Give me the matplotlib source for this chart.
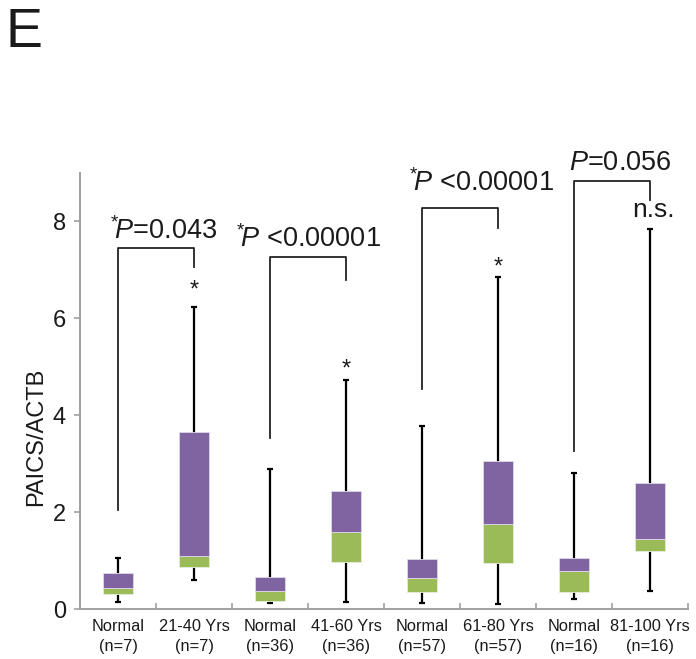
import matplotlib
matplotlib.use("Agg")
import matplotlib.pyplot as plt
import numpy as np

plt.rcParams['font.family'] = ['Liberation Sans', 'DejaVu Sans']
plt.rcParams['mathtext.fontset'] = 'custom'
plt.rcParams['mathtext.rm'] = 'Liberation Sans'
plt.rcParams['mathtext.it'] = 'Liberation Sans:italic'

# ---- data ----
groups = ["Normal", "21-40 Yrs", "Normal", "41-60 Yrs", "Normal", "61-80 Yrs", "Normal", "81-100 Yrs"]
counts = ["(n=7)", "(n=7)", "(n=36)", "(n=36)", "(n=57)", "(n=57)", "(n=16)", "(n=16)"]
whisker_low = [0.15, 0.60, 0.12, 0.15, 0.13, 0.10, 0.21, 0.38]
q1 =          [0.30, 0.86, 0.17, 0.98, 0.35, 0.94, 0.36, 1.20]
median =      [0.43, 1.10, 0.37, 1.59, 0.63, 1.76, 0.78, 1.44]
q3 =          [0.74, 3.65, 0.67, 2.43, 1.03, 3.06, 1.05, 2.60]
whisker_high = [1.05, 6.23, 2.90, 4.72, 3.78, 6.86, 2.81, 7.85]

# significance brackets: (left idx, right idx, left bottom, top, right bottom)
brackets = [(0, 1, 2.05, 7.46, 7.05),
            (2, 3, 3.54, 7.27, 6.80),
            (4, 5, 4.54, 8.27, 7.87),
            (6, 7, 3.27, 8.84, 8.44)]
p_texts = [r"$^{*}\!P$=0.043", r"$^{*}\!P$ <0.00001", r"$^{*}\!P$ <0.00001", r"$P$=0.056"]
p_pos = [(-0.10, 7.81), (1.55, 7.63), (3.83, 8.80), (5.93, 9.20)]
star_idx = [1, 3, 5]
star_y = [6.58, 4.95, 7.05]
ns_text = "n.s."
ns_pos = (7.04, 8.24)

purple = "#8064A2"
green = "#9BBB59"

fig = plt.figure(figsize=(6.96, 6.59), dpi=100)
ax = fig.add_axes([80/696, 1-609/659, 608/696, (609-173)/659])

x = np.arange(len(groups))
w = 0.40
# whiskers
ax.vlines(x, whisker_low, whisker_high, color="black", lw=1.6, zorder=1)
ax.hlines(whisker_low, x-0.035, x+0.035, color="black", lw=1.6, zorder=1)
ax.hlines(whisker_high, x-0.035, x+0.035, color="black", lw=1.6, zorder=1)
# boxes
ax.bar(x, np.array(median)-np.array(q1), bottom=q1, width=w, color=green, zorder=2,
       edgecolor="#e6eedb", linewidth=0.6)
ax.bar(x, np.array(q3)-np.array(median), bottom=median, width=w, color=purple, zorder=2,
       edgecolor="#e0d8ea", linewidth=0.6)

# brackets
for (l, r, lb, top, rb) in brackets:
    ax.plot([l, l, r, r], [lb, top, top, rb], color="#222222", lw=1.3, clip_on=False, zorder=3)

for t, (px, py) in zip(p_texts, p_pos):
    ax.text(px, py, t, fontsize=19.5, ha="left", va="center", color="#1a1a1a", clip_on=False)

for i, sy in zip(star_idx, star_y):
    ax.text(x[i], sy, "*", fontsize=17, ha="center", va="center", color="#1a1a1a")

ax.text(ns_pos[0], ns_pos[1], ns_text, fontsize=19, ha="center", va="center", color="#1a1a1a", clip_on=False)

# axes styling
ax.set_xlim(-0.5, 7.5)
ax.set_ylim(0, 9)
for s in ["top", "right"]:
    ax.spines[s].set_visible(False)
for s in ["left", "bottom"]:
    ax.spines[s].set_color("#a0a0a0")
    ax.spines[s].set_linewidth(1.4)

ax.set_yticks([0, 2, 4, 6, 8])
ax.tick_params(axis="y", labelsize=17, length=4, width=1.2, color="#a0a0a0", pad=6, labelcolor="#1a1a1a")
ax.set_xticks(x)
ax.set_xticklabels([f"{g}\n{c}" for g, c in zip(groups, counts)], fontsize=11.8, color="#1a1a1a",
                   linespacing=1.45)
ax.tick_params(axis="x", which="major", length=0, pad=7)
ax.set_xticks(np.arange(0.5, 8.0, 1.0), minor=True)
ax.tick_params(axis="x", which="minor", direction="in", length=4, width=1.2, color="#a0a0a0")

fig.text(36/696, 1-437/659, "PAICS/ACTB", rotation=90, fontsize=17, ha="center", va="center", color="#1a1a1a")
fig.text(5/696, 1-47/659, "E", fontsize=40, ha="left", va="baseline", color="#1a1a1a")

fig.savefig("out.png", dpi=100)
